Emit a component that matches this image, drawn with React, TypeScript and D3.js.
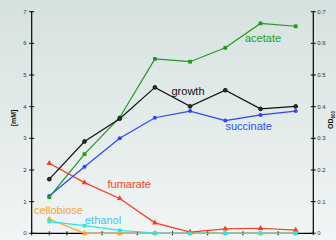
import React from "react";
import * as d3 from "d3";

// sample points (x labels are mostly cut off at the bottom of the picture)
const samples = ["1", "2", "3", "4", "5", "6", "7", "10"];

// left axis, mM
const acetate = [1.14, 2.5, 3.66, 5.51, 5.42, 5.86, 6.63, 6.54];
const succinate = [1.18, 2.1, 3.0, 3.65, 3.86, 3.56, 3.74, 3.86];
const fumarate = [2.21, 1.6, 1.1, 0.33, 0.04, 0.14, 0.16, 0.1];
const cellobiose = [0.45, 0, 0, 0, 0, 0, 0, 0];
const ethanol = [0.37, 0.24, 0.09, 0.01, 0, 0, 0, 0];

// right axis, OD600
const growth = [0.171, 0.29, 0.362, 0.461, 0.401, 0.452, 0.393, 0.401];

const mMTicks = [0, 1, 2, 3, 4, 5, 6, 7];
const odTicks = [0, 0.1, 0.2, 0.3, 0.4, 0.5, 0.6, 0.7];

const width = 336;
const height = 240;
const left = 31.7;
const right = 313.3;
const top = 11.7;
const bottom = 233.3;

const App = () => {
  const x = d3.scalePoint<string>().domain(samples).range([left, right]).padding(0.5);
  const yL = d3.scaleLinear().domain([0, 7]).range([bottom, top]);
  const yR = d3.scaleLinear().domain([0, 0.7]).range([bottom, top]);
  const step = x.step();

  const lineL = d3.line<number>().x((_, i) => x(samples[i])!).y((d) => yL(d));
  const lineR = d3.line<number>().x((_, i) => x(samples[i])!).y((d) => yR(d));

  // x ticks every half step
  const xTicks = d3.range(0, samples.length * 2 + 1).map((k) => left + (k * step) / 2);

  const tri = d3.symbol(d3.symbolTriangle, 14)();
  const sq = d3.symbol(d3.symbolSquare, 14)();

  const series = [
    { name: "cellobiose", data: cellobiose, color: "#ffa41c", sym: tri },
    { name: "fumarate", data: fumarate, color: "#ff3a1c", sym: tri },
    { name: "succinate", data: succinate, color: "#2447ff", sym: null },
    { name: "acetate", data: acetate, color: "#1c9a1c", sym: sq },
    { name: "ethanol", data: ethanol, color: "#22e8f0", sym: sq },
  ];

  const labels = [
    { text: "acetate", x: 245, y: 41.5, color: "#1e9a1e" },
    { text: "growth", x: 171.5, y: 94.5, color: "#111" },
    { text: "succinate", x: 225.5, y: 130, color: "#2d4cff" },
    { text: "fumarate", x: 107.5, y: 187.5, color: "#ff4020" },
    { text: "cellobiose", x: 34, y: 213.5, color: "#f7a040" },
    { text: "ethanol", x: 85, y: 224, color: "#38c8f0" },
  ];

  return (
    <svg width={width} height={height} style={{ position: "absolute", left: 0, top: 0 }}
      fontFamily="'Liberation Sans', Arial, sans-serif">
      <defs>
        <linearGradient id="bg" x1="0" y1="0" x2="0" y2="1">
          <stop offset="0" stopColor="#d6e2df" />
          <stop offset="1" stopColor="#f1f5f5" />
        </linearGradient>
      </defs>
      <rect width={width} height={height} fill="url(#bg)" />

      {/* left axis */}
      <line x1={left} x2={left} y1={top} y2={bottom} stroke="#000" strokeWidth={1.2} />
      {mMTicks.map((t) => (
        <g key={"l" + t} transform={`translate(0,${yL(t)})`}>
          <line x1={left - 2.5} x2={left + 2.5} stroke="#000" strokeWidth={1} />
          <text x={left - 5} dy="0.35em" textAnchor="end" fontSize={6} fill="#333">{t}</text>
        </g>
      ))}
      <text transform={`translate(16,118) rotate(-90)`} textAnchor="middle" fontSize={7}
        fontWeight="bold" fill="#111">[mM]</text>

      {/* right axis */}
      <line x1={right} x2={right} y1={top} y2={bottom} stroke="#000" strokeWidth={1.2} />
      {odTicks.map((t) => (
        <g key={"r" + t} transform={`translate(0,${yR(t)})`}>
          <line x1={right - 2.5} x2={right + 2.5} stroke="#000" strokeWidth={1} />
          <text x={right + 4} dy="0.35em" fontSize={6} fill="#333">{d3.format("~g")(t)}</text>
        </g>
      ))}
      <text transform={`translate(333,120) rotate(-90)`} textAnchor="middle" fontSize={7}
        fontWeight="bold" fill="#111">
        OD<tspan fontSize={4.5} dy="1.5">600</tspan>
      </text>

      {/* x axis */}
      <line x1={left} x2={right} y1={bottom} y2={bottom} stroke="#000" strokeWidth={1.2} />
      {xTicks.map((t, i) => (
        <line key={"x" + i} x1={t} x2={t} y1={bottom - 2} y2={bottom + 2} stroke="#000" strokeWidth={1} />
      ))}
      {samples.map((s) => (
        <text key={"xl" + s} x={x(s)} y={244} textAnchor="middle" fontSize={6} fill="#444">{s}</text>
      ))}

      {/* mM series */}
      {series.map((s) => (
        <g key={s.name}>
          <path d={lineL(s.data)!} fill="none" stroke={s.color} strokeWidth={1.2} />
          {s.data.map((d, i) =>
            s.sym ? (
              <path key={i} d={s.sym} transform={`translate(${x(samples[i])},${yL(d)})`} fill={s.color} />
            ) : (
              <circle key={i} cx={x(samples[i])} cy={yL(d)} r={2} fill={s.color} />
            )
          )}
        </g>
      ))}

      {/* growth on OD axis */}
      <path d={lineR(growth)!} fill="none" stroke="#111" strokeWidth={1.2} />
      {growth.map((d, i) => (
        <circle key={i} cx={x(samples[i])} cy={yR(d)} r={1.9} fill="#333" stroke="#000" strokeWidth={0.8} />
      ))}

      {labels.map((l) => (
        <text key={l.text} x={l.x} y={l.y} fontSize={11} fill={l.color}>{l.text}</text>
      ))}
    </svg>
  );
};

export default App;
